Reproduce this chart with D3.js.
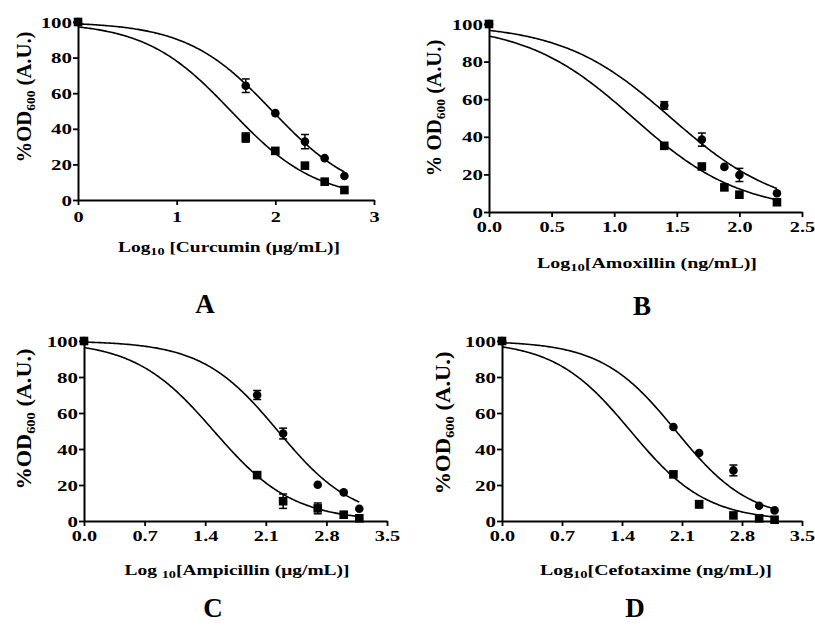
<!DOCTYPE html>
<html>
<head>
<meta charset="utf-8">
<script src="https://cdn.jsdelivr.net/npm/d3@7"></script>
<style>
  body { margin: 0; background: #fff; }
  svg { display: block; }
  text { font-family: "Liberation Serif", "Times New Roman", serif; font-weight: bold; fill: #000; }
</style>
</head>
<body>
<div id="chart"></div>
<script>
// ---- data ----
// A: curcumin
var xA = [0, 1.7, 2.0, 2.3, 2.5, 2.7];
var circA = [100, 64.2, 48.8, 32.8, 23.5, 13.5];
var circErrA = [0, 3.8, 0, 4.0, 0, 0];
var sqA = [100, 35.1, 27.6, 19.3, 10.3, 5.6];
var sqErrA = [0, 2.6, 0, 0, 0, 0];
var fitCircA = [100, 0, 1.97, 1.0];   // top, bottom, logIC50, hill
var fitSqA = [100, 0, 1.55, 1.0];

// B: amoxillin
var xB = [0, 1.4, 1.7, 1.88, 2.0, 2.3];
var circB = [100, 56.7, 38.5, 24.0, 19.7, 10.0];
var circErrB = [0, 2.0, 3.5, 0, 3.5, 0];
var sqB = [100, 35.2, 24.2, 13.1, 9.2, 5.2];
var sqErrB = [0, 0, 0, 0, 0, 0];
var fitCircB = [100, 0, 1.455, 1.0];
var fitSqB = [100, 0, 1.153, 1.01];

// C: ampicillin
var xC = [0, 2.0, 2.3, 2.7, 3.0, 3.18];
var circC = [100, 70.0, 48.6, 20.1, 15.9, 6.8];
var circErrC = [0, 2.5, 3.0, 0, 0, 0];
var sqC = [100, 25.5, 11.0, 7.0, 3.5, 1.5];
var sqErrC = [0, 0, 4.0, 3.0, 0, 0];
var fitCircC = [100, 0, 2.24, 0.99];
var fitSqC = [100, 0, 1.5, 0.95];

// D: cefotaxime
var xD = [0, 2.0, 2.3, 2.7, 3.0, 3.18];
var circD = [100, 52.2, 37.8, 28.1, 8.5, 5.9];
var circErrD = [0, 0, 0, 3.0, 0, 0];
var sqD = [100, 25.9, 9.3, 3.1, 1.5, 0.7];
var sqErrD = [0, 0, 2.0, 0, 0, 0];
var fitCircD = [100, 0, 2.03, 1.0];
var fitSqD = [100, 0, 1.5, 0.98];

var yTicks = [0, 20, 40, 60, 80, 100];
var xTicksA = [0, 1, 2, 3];
var xTicksB = [0, 0.5, 1.0, 1.5, 2.0, 2.5];
var xTicksCD = [0, 0.7, 1.4, 2.1, 2.8, 3.5];

// ---- layout ----
var panels = [
  { x: xA, circ: circA, circErr: circErrA, sq: sqA, sqErr: sqErrA, fitC: fitCircA, fitS: fitSqA,
    xDom: [0, 3], xTicks: xTicksA, fmt: d3.format("d"),
    xr: [78, 374], yr: [200, 22], tickY: 22,
    yLab: "%OD", yLabPos: [31, 97, 131],
    xLab: ["Log", "10", " [Curcumin (\u03bcg/mL)]"], xLabPos: [229, 252, 222],
    letter: "A", letterPos: [205, 313] },
  { x: xB, circ: circB, circErr: circErrB, sq: sqB, sqErr: sqErrB, fitC: fitCircB, fitS: fitSqB,
    xDom: [0, 2.5], xTicks: xTicksB, fmt: d3.format(".1f"),
    xr: [489, 802], yr: [212, 24], tickY: 20,
    yLab: "% OD", yLabPos: [441, 108, 137],
    xLab: ["Log", "10", "[Amoxillin (ng/mL)]"], xLabPos: [647, 268, 220],
    letter: "B", letterPos: [642, 315] },
  { x: xC, circ: circC, circErr: circErrC, sq: sqC, sqErr: sqErrC, fitC: fitCircC, fitS: fitSqC,
    xDom: [0, 3.5], xTicks: xTicksCD, fmt: d3.format(".1f"),
    xr: [84, 387], yr: [521, 341], tickY: 20,
    yLab: "%OD", yLabPos: [31, 419, 141],
    xLab: ["Log ", "10", "[Ampicillin (\u03bcg/mL)]"], xLabPos: [237, 575, 225],
    letter: "C", letterPos: [213, 617] },
  { x: xD, circ: circD, circErr: circErrD, sq: sqD, sqErr: sqErrD, fitC: fitCircD, fitS: fitSqD,
    xDom: [0, 3.5], xTicks: xTicksCD, fmt: d3.format(".1f"),
    xr: [502, 802], yr: [521, 341], tickY: 20,
    yLab: "%OD", yLabPos: [450, 423, 143],
    xLab: ["Log", "10", "[Cefotaxime (ng/mL)]"], xLabPos: [656, 575, 232],
    letter: "D", letterPos: [635, 617] }
];

var stretch = 1.35;

var svg = d3.select("#chart").append("svg")
    .attr("width", 815)
    .attr("height", 629);

function logistic(p) {
  return function(x) { return p[1] + (p[0] - p[1]) / (1 + Math.pow(10, (x - p[2]) * p[3])); };
}

panels.forEach(function(p) {
  var x = d3.scaleLinear().domain(p.xDom).range(p.xr);
  var y = d3.scaleLinear().domain([0, 100]).range(p.yr);
  var g = svg.append("g");

  // axes
  var ya = g.append("g")
      .attr("transform", "translate(" + p.xr[0] + ",0)")
      .call(d3.axisLeft(y).tickValues(yTicks).tickSize(5).tickSizeOuter(0));
  ya.selectAll("text")
      .attr("x", -6 / stretch)
      .attr("dy", "0.33em")
      .attr("transform", "scale(" + stretch + ",1)")
      .style("font-size", "15.5px");

  var xa = g.append("g")
      .attr("transform", "translate(0," + p.yr[0] + ")")
      .call(d3.axisBottom(x).tickValues(p.xTicks).tickFormat(p.fmt).tickSize(5).tickSizeOuter(0));
  xa.selectAll("text")
      .attr("y", p.tickY)
      .attr("dy", 0)
      .attr("transform", "scale(" + stretch + ",1)")
      .style("font-size", "15px");

  g.selectAll(".domain").attr("stroke", "#000").attr("stroke-width", 2);
  g.selectAll(".tick line").attr("stroke", "#000").attr("stroke-width", 1.8);
  g.selectAll(".tick text").attr("font-family", null).attr("font-size", null);

  // fitted curves
  var xmax = p.x[p.x.length - 1];
  var line = d3.line().x(function(d) { return x(d[0]); }).y(function(d) { return y(d[1]); });
  [p.fitC, p.fitS].forEach(function(f) {
    var fn = logistic(f);
    var pts = d3.range(0, xmax, xmax / 200).concat([xmax]).map(function(v) { return [v, fn(v)]; });
    g.append("path").datum(pts)
        .attr("d", line)
        .attr("fill", "none")
        .attr("stroke", "#000")
        .attr("stroke-width", 1.6);
  });

  // error bars
  function errBars(vals, errs) {
    var d = p.x.map(function(v, i) { return { x: v, y: vals[i], e: errs[i] }; })
        .filter(function(d) { return d.e > 0; });
    var eb = g.selectAll(null).data(d).enter().append("g")
        .attr("stroke", "#000").attr("stroke-width", 1.5);
    eb.append("line")
        .attr("x1", function(d) { return x(d.x); }).attr("x2", function(d) { return x(d.x); })
        .attr("y1", function(d) { return y(d.y + d.e); }).attr("y2", function(d) { return y(d.y - d.e); });
    eb.append("line")
        .attr("x1", function(d) { return x(d.x) - 4; }).attr("x2", function(d) { return x(d.x) + 4; })
        .attr("y1", function(d) { return y(d.y + d.e); }).attr("y2", function(d) { return y(d.y + d.e); });
    eb.append("line")
        .attr("x1", function(d) { return x(d.x) - 4; }).attr("x2", function(d) { return x(d.x) + 4; })
        .attr("y1", function(d) { return y(d.y - d.e); }).attr("y2", function(d) { return y(d.y - d.e); });
  }
  errBars(p.circ, p.circErr);
  errBars(p.sq, p.sqErr);

  // markers
  g.selectAll(null).data(p.x.map(function(v, i) { return [v, p.circ[i]]; })).enter()
      .append("circle")
      .attr("cx", function(d) { return x(d[0]); })
      .attr("cy", function(d) { return y(d[1]); })
      .attr("r", 4.3)
      .attr("fill", "#000");
  g.selectAll(null).data(p.x.map(function(v, i) { return [v, p.sq[i]]; })).enter()
      .append("rect")
      .attr("x", function(d) { return x(d[0]) - 4.3; })
      .attr("y", function(d) { return y(d[1]) - 4.3; })
      .attr("width", 8.6)
      .attr("height", 8.6)
      .attr("fill", "#000");

  // y label
  var yl = g.append("text")
      .attr("transform", "translate(" + p.yLabPos[0] + "," + p.yLabPos[1] + ") rotate(-90)")
      .attr("text-anchor", "middle")
      .attr("textLength", p.yLabPos[2])
      .attr("lengthAdjust", "spacingAndGlyphs")
      .style("font-size", "20px");
  yl.append("tspan").text(p.yLab);
  yl.append("tspan").attr("dy", 4).style("font-size", "13px").text("600");
  yl.append("tspan").attr("dy", -4).text(" (A.U.)");

  // x label
  var xl = g.append("text")
      .attr("x", p.xLabPos[0])
      .attr("y", p.xLabPos[1])
      .attr("text-anchor", "middle")
      .attr("textLength", p.xLabPos[2])
      .attr("lengthAdjust", "spacingAndGlyphs")
      .style("font-size", "15px");
  xl.append("tspan").text(p.xLab[0]);
  xl.append("tspan").attr("dy", 3).style("font-size", "11px").text(p.xLab[1]);
  xl.append("tspan").attr("dy", -3).text(p.xLab[2]);

  // panel letter
  g.append("text")
      .attr("x", p.letterPos[0])
      .attr("y", p.letterPos[1])
      .attr("text-anchor", "middle")
      .style("font-size", "27px")
      .text(p.letter);
});
</script>
</body>
</html>
